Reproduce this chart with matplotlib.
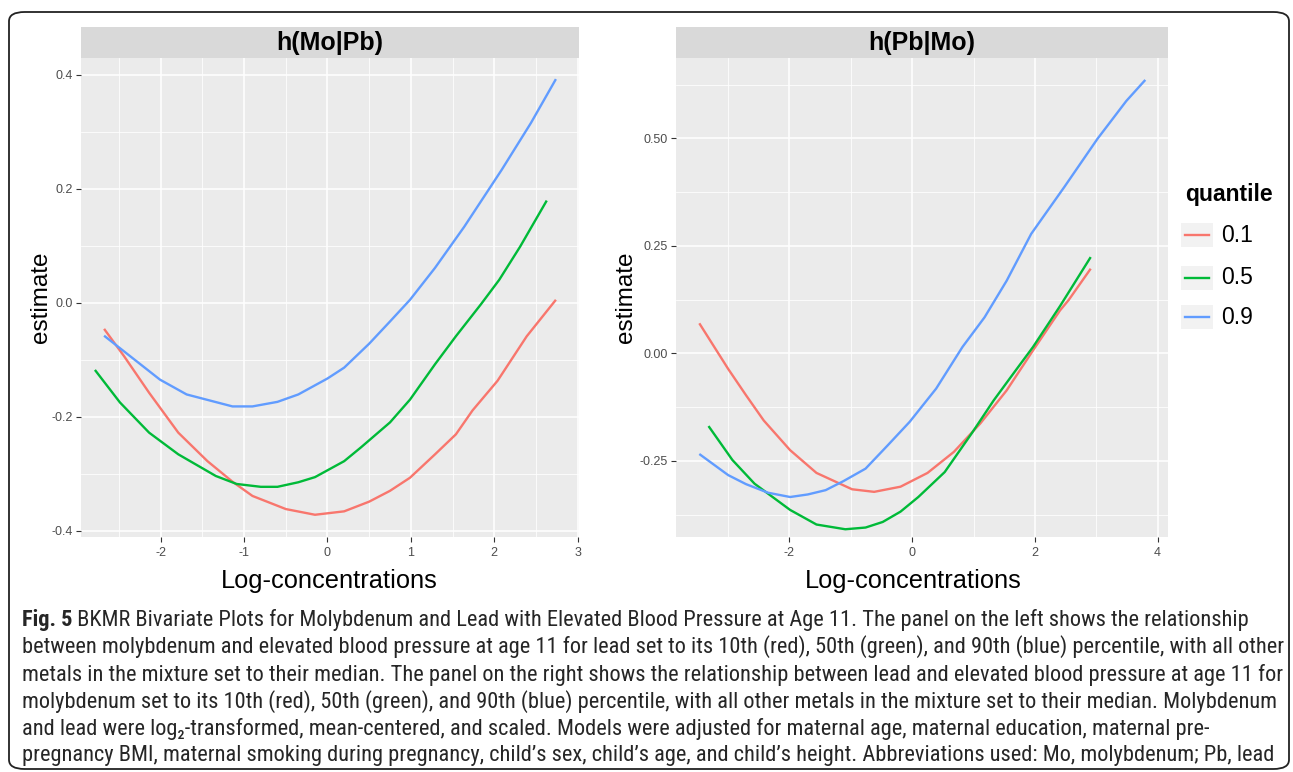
import matplotlib
matplotlib.use("Agg")
import matplotlib.pyplot as plt
from matplotlib import font_manager
from matplotlib.patches import FancyBboxPatch, Rectangle
from matplotlib.lines import Line2D

plt.rcParams['axes.unicode_minus'] = False

W, H = 1293, 772

colors = ['#F8766D', '#00BA38', '#619CFF']
quantiles = ['0.1', '0.5', '0.9']

# h(Mo|Pb) : Mo varies, Pb fixed at its 10th / 50th / 90th percentile
mo_red_x = [-2.68, -2.44, -2.14, -1.79, -1.44, -1.14, -0.90, -0.50, -0.15, 0.20, 0.50, 0.75, 0.99, 1.29, 1.54, 1.74, 2.04, 2.39, 2.74]
mo_red_y = [-0.046, -0.094, -0.158, -0.228, -0.278, -0.314, -0.339, -0.362, -0.372, -0.366, -0.349, -0.330, -0.307, -0.266, -0.231, -0.189, -0.137, -0.059, 0.005]
mo_green_x = [-2.79, -2.49, -2.14, -1.79, -1.34, -1.09, -0.80, -0.60, -0.35, -0.15, 0.20, 0.40, 0.75, 0.99, 1.29, 1.54, 1.84, 2.06, 2.31, 2.63]
mo_green_y = [-0.118, -0.175, -0.228, -0.266, -0.304, -0.318, -0.323, -0.323, -0.315, -0.306, -0.278, -0.254, -0.210, -0.170, -0.108, -0.059, -0.003, 0.040, 0.098, 0.179]
mo_blue_x = [-2.68, -2.01, -1.69, -1.14, -0.90, -0.60, -0.35, 0.0, 0.20, 0.50, 0.75, 0.99, 1.29, 1.64, 2.09, 2.44, 2.74]
mo_blue_y = [-0.058, -0.135, -0.161, -0.182, -0.182, -0.174, -0.161, -0.133, -0.114, -0.072, -0.033, 0.005, 0.061, 0.133, 0.233, 0.315, 0.392]

# h(Pb|Mo) : Pb varies, Mo fixed at its 10th / 50th / 90th percentile
pb_red_x = [-3.47, -3.00, -2.71, -2.42, -1.99, -1.56, -0.98, -0.62, -0.19, 0.25, 0.68, 1.11, 1.54, 1.97, 2.41, 2.55, 2.91]
pb_red_y = [0.070, -0.036, -0.097, -0.156, -0.225, -0.278, -0.316, -0.322, -0.310, -0.278, -0.229, -0.163, -0.086, 0.007, 0.100, 0.124, 0.197]
pb_green_x = [-3.32, -2.93, -2.57, -1.99, -1.56, -1.09, -0.76, -0.48, -0.19, 0.10, 0.53, 0.97, 1.33, 1.69, 1.97, 2.41, 2.91]
pb_green_y = [-0.169, -0.248, -0.303, -0.364, -0.398, -0.409, -0.405, -0.392, -0.368, -0.334, -0.276, -0.186, -0.109, -0.039, 0.015, 0.110, 0.224]
pb_blue_x = [-3.47, -3.00, -2.71, -2.35, -1.99, -1.70, -1.41, -1.12, -0.76, -0.40, -0.04, 0.39, 0.82, 1.18, 1.54, 1.94, 2.48, 3.02, 3.49, 3.80]
pb_blue_y = [-0.234, -0.283, -0.304, -0.324, -0.334, -0.328, -0.318, -0.297, -0.268, -0.214, -0.159, -0.082, 0.015, 0.084, 0.169, 0.278, 0.387, 0.499, 0.587, 0.636]

mo_xticks = [-2, -1, 0, 1, 2, 3]
mo_yticks = [-0.4, -0.2, 0.0, 0.2, 0.4]
mo_ylabels = ['-0.4', '-0.2', '0.0', '0.2', '0.4']
pb_xticks = [-2, 0, 2, 4]
pb_yticks = [-0.25, 0.0, 0.25, 0.5]
pb_ylabels = ['-0.25', '0.00', '0.25', '0.50']

caption = [
    "BKMR Bivariate Plots for Molybdenum and Lead with Elevated Blood Pressure at Age 11. The panel on the left shows the relationship",
    "between molybdenum and elevated blood pressure at age 11 for lead set to its 10th (red), 50th (green), and 90th (blue) percentile, with all other",
    "metals in the mixture set to their median. The panel on the right shows the relationship between lead and elevated blood pressure at age 11 for",
    "molybdenum set to its 10th (red), 50th (green), and 90th (blue) percentile, with all other metals in the mixture set to their median. Molybdenum",
    "and lead were log\u2082-transformed, mean-centered, and scaled. Models were adjusted for maternal age, maternal education, maternal pre-",
    "pregnancy BMI, maternal smoking during pregnancy, child\u2019s sex, child\u2019s age, and child\u2019s height. Abbreviations used: Mo, molybdenum; Pb, lead",
]


def has_font(name):
    try:
        font_manager.findfont(name, fallback_to_default=False)
        return True
    except ValueError:
        return False


plot_font = 'Liberation Sans' if has_font('Liberation Sans') else 'DejaVu Sans'
cap_font = plot_font
for f in ['Liberation Sans Narrow', 'Roboto Condensed', 'Open Sans Condensed']:
    if has_font(f):
        cap_font = f
        break
plt.rcParams['font.family'] = [plot_font, 'DejaVu Sans']


def box(x0, y0, x1, y1):
    return [x0 / W, 1 - y1 / H, (x1 - x0) / W, (y1 - y0) / H]


fig = plt.figure(figsize=(W / 100, H / 100), dpi=100)

# rounded frame around the whole figure
fig.patches.append(FancyBboxPatch((9 / W, 3 / H), (1280 / W), (757 / H),
                                  boxstyle='round,pad=0,rounding_size=0.012',
                                  transform=fig.transFigure, fill=False,
                                  edgecolor='#222222', lw=1.3))


def panel(x0, x1, title, xs, ys, xlim, ylim, xticks, yticks, ylabels, xlab_x):
    ax = fig.add_axes(box(x0, 58, x1, 537))
    ax.set_facecolor('#EBEBEB')
    for s in ax.spines.values():
        s.set_visible(False)
    for x, y, c in zip(xs, ys, colors):
        ax.plot(x, y, color=c, lw=1.7, solid_capstyle='butt')
    ax.set_xticks(xticks)
    ax.set_xticklabels([str(t) for t in xticks])
    ax.set_yticks(yticks)
    ax.set_yticklabels(ylabels)
    dx = xticks[1] - xticks[0]
    dy = yticks[1] - yticks[0]
    ax.set_xticks([t + dx / 2 for t in [xticks[0] - dx] + xticks], minor=True)
    ax.set_yticks([t + dy / 2 for t in [yticks[0] - dy] + yticks], minor=True)
    # limits after the ticks, so that the minor ticks do not widen the view
    ax.set_xlim(xlim)
    ax.set_ylim(ylim)
    ax.grid(which='major', color='white', lw=1.1)
    ax.grid(which='minor', color='white', lw=0.55)
    ax.set_axisbelow(True)
    ax.tick_params(which='minor', length=0)
    ax.tick_params(which='major', length=3.5, width=0.8, color='#333333',
                   labelcolor='#4D4D4D', labelsize=9, pad=2.5)
    ax.tick_params(axis='x', pad=3.5)

    st = fig.add_axes(box(x0, 27, x1, 58))
    st.set_facecolor('#D9D9D9')
    st.set_xticks([])
    st.set_yticks([])
    for s in st.spines.values():
        s.set_visible(False)
    st.text(0.5, 0.48, title, ha='center', va='center', fontsize=18,
            fontweight='bold', transform=st.transAxes)

    fig.text(xlab_x / W, 1 - 581 / H, 'Log-concentrations', ha='center', va='center', fontsize=18.3)
    return ax


panel(81, 579, 'h(Mo|Pb)', [mo_red_x, mo_green_x, mo_blue_x], [mo_red_y, mo_green_y, mo_blue_y],
      (-2.957, 3.017), (-0.411, 0.429), mo_xticks, mo_yticks, mo_ylabels, 329)
panel(676, 1168, 'h(Pb|Mo)', [pb_red_x, pb_green_x, pb_blue_x], [pb_red_y, pb_green_y, pb_blue_y],
      (-3.85, 4.17), (-0.427, 0.687), pb_xticks, pb_yticks, pb_ylabels, 913)

fig.text(41 / W, 1 - 297 / H, 'estimate', rotation=90, ha='center', va='center', fontsize=17.5)
fig.text(626 / W, 1 - 297 / H, 'estimate', rotation=90, ha='center', va='center', fontsize=17.5)

# legend
fig.text(1185 / W, 1 - 195 / H, 'quantile', ha='left', va='center', fontsize=16.5, fontweight='bold')
for q, c, yc in zip(quantiles, colors, [235, 278, 317]):
    fig.patches.append(Rectangle((1181 / W, 1 - (yc + 12) / H), 32 / W, 24 / H,
                                 transform=fig.transFigure, facecolor='#F2F2F2', edgecolor='none'))
    fig.lines.append(Line2D([1185 / W, 1209 / W], [1 - yc / H, 1 - yc / H],
                            transform=fig.transFigure, color=c, lw=1.7))
    fig.text(1221 / W, 1 - yc / H, q, ha='left', va='center', fontsize=16.5)

# caption, sized so that the second line spans about the same width as in the figure
fig.canvas.draw()
r = fig.canvas.get_renderer()
cap_fam = [cap_font, 'DejaVu Sans']
cap_size = 12.0
for _ in range(3):
    probe = fig.text(22 / W, 0.5, caption[1], fontsize=cap_size, family=cap_fam)
    cap_size = cap_size * 1262 / probe.get_window_extent(r).width
    probe.remove()

cap_color = '#262626'
line_y = [620, 647, 675, 702, 729, 756]
bold = fig.text(22 / W, 1 - line_y[0] / H, 'Fig. 5', fontsize=cap_size, fontweight='bold',
                family=cap_fam, va='center', color=cap_color)
bw = bold.get_window_extent(r).width
fig.text((22 + bw) / W, 1 - line_y[0] / H, ' ' + caption[0], fontsize=cap_size,
         family=cap_fam, va='center', color=cap_color)
for txt, yy in zip(caption[1:], line_y[1:]):
    fig.text(22 / W, 1 - yy / H, txt, fontsize=cap_size, family=cap_fam, va='center', color=cap_color)

fig.savefig('out.png', dpi=100)
